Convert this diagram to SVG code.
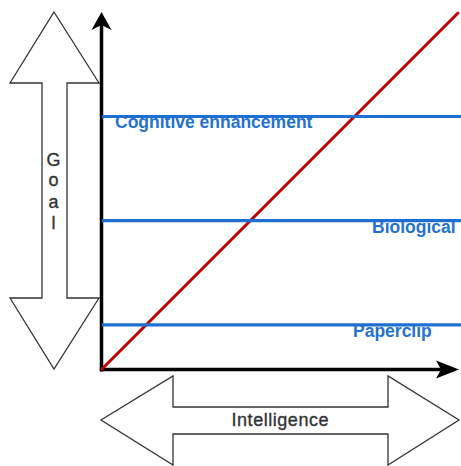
<svg xmlns="http://www.w3.org/2000/svg" width="461" height="466" viewBox="0 0 461 466">
  <style>
    .big-arrow { fill: #ffffff; stroke: #333333; stroke-width: 1.3; stroke-linejoin: miter; }
    .axis { stroke: #000000; stroke-width: 3.5; fill: none; }
    .level { stroke: #1F6FD1; stroke-width: 3.2; fill: none; }
    .trend { stroke: #C00000; stroke-width: 3; fill: none; stroke-linecap: round; }
    .label { font-family: "Liberation Sans", Arial, sans-serif; fill: #333333; stroke: #333333; stroke-width: 0.35; font-size: 18px; }
    .level-label { font-family: "Liberation Sans", Arial, sans-serif; fill: #2472D2; font-size: 17.5px; font-weight: bold; }
  </style>

  <!-- Goal: vertical double-headed arrow -->
  <g id="goal">
    <path class="big-arrow" d="M54,12 L99,83 L67,83 L67,298 L99,298 L54,369 L10,298 L42,298 L42,83 L10,83 Z"/>
    <text class="label" text-anchor="middle" x="53.5" y="165.5">G</text>
    <text class="label" text-anchor="middle" x="53.5" y="186">o</text>
    <text class="label" text-anchor="middle" x="53.5" y="207.5">a</text>
    <text class="label" text-anchor="middle" x="53.5" y="228.5">l</text>
  </g>

  <!-- Intelligence: horizontal double-headed arrow -->
  <g id="intelligence">
    <path class="big-arrow" d="M101,420 L173,376 L173,407 L388,407 L388,376 L459,420 L388,465 L388,434 L173,434 L173,465 Z"/>
    <text class="label" text-anchor="middle" x="280" y="425.5" textLength="97" lengthAdjust="spacing">Intelligence</text>
  </g>

  <!-- Axes and plotted lines -->
  <g id="connectors">
    <line class="axis" x1="101.5" y1="371.5" x2="101.5" y2="24"/>
    <path d="M101.5,12 L111.5,30 L101.5,25 L91.5,30 Z" fill="#000000"/>
    <line class="axis" x1="99.8" y1="369.5" x2="448" y2="369.5"/>
    <path d="M459,369.5 L436,378.5 L441,369.5 L436,360.5 Z" fill="#000000"/>

    <line class="trend" x1="102" y1="369" x2="458" y2="13"/>
  </g>

  <g id="cognitive-enhancement">
    <text class="level-label" x="115" y="128">Cognitive enhancement</text>
    <line class="level" x1="102" y1="116.5" x2="461" y2="116.5"/>
  </g>

  <g id="biological">
    <text class="level-label" x="372" y="232.5">Biological</text>
    <line class="level" x1="102" y1="220.7" x2="461" y2="220.7"/>
  </g>

  <g id="paperclip">
    <text class="level-label" x="353" y="336.5">Paperclip</text>
    <line class="level" x1="102" y1="324.9" x2="461" y2="324.9"/>
  </g>
</svg>
